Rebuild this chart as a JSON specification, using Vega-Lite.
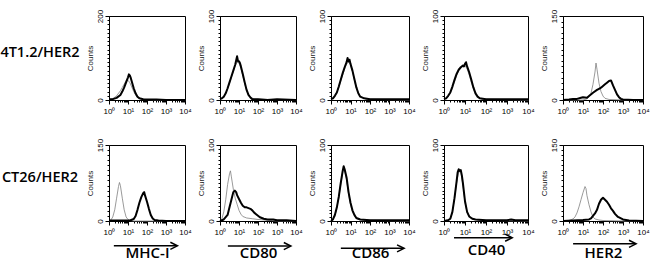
{
"$schema": "https://vega.github.io/schema/vega-lite/v6.json",
"padding": {"left": 0, "top": 8, "right": 0, "bottom": 0},
"background": "white",
"config": {
  "view": {"stroke": "#000", "strokeWidth": 1},
  "font": "Liberation Sans",
  "axis": {"grid": false, "domainColor": "#000", "domainWidth": 1, "tickColor": "#000", "tickWidth": 1, "labelColor": "#000", "labelFont": "Liberation Sans", "labelFontSize": 8, "titleFont": "Liberation Sans", "titleFontWeight": "normal", "titleColor": "#222"},
  "line": {"strokeJoin": "round"}
},
"datasets": {"h": [
{"p":"A1","s":"iso","x":1,"c":1},{"p":"A1","s":"iso","x":1.58,"c":3},{"p":"A1","s":"iso","x":2.51,"c":10},{"p":"A1","s":"iso","x":3.98,"c":22},{"p":"A1","s":"iso","x":5.01,"c":30},{"p":"A1","s":"iso","x":6.31,"c":38},{"p":"A1","s":"iso","x":7.94,"c":46},{"p":"A1","s":"iso","x":8.91,"c":49},{"p":"A1","s":"iso","x":10,"c":47},{"p":"A1","s":"iso","x":12.6,"c":41},{"p":"A1","s":"iso","x":15.8,"c":31},{"p":"A1","s":"iso","x":20,"c":20},{"p":"A1","s":"iso","x":25.1,"c":12},{"p":"A1","s":"iso","x":31.6,"c":6},{"p":"A1","s":"iso","x":50.1,"c":2},{"p":"A1","s":"iso","x":100,"c":1},{"p":"A1","s":"iso","x":316,"c":0},{"p":"A1","s":"iso","x":10000,"c":0},
{"p":"A1","s":"pos","x":1,"c":2},{"p":"A1","s":"pos","x":1.58,"c":2},{"p":"A1","s":"pos","x":2.51,"c":5},{"p":"A1","s":"pos","x":3.98,"c":12},{"p":"A1","s":"pos","x":5.01,"c":20},{"p":"A1","s":"pos","x":6.31,"c":30},{"p":"A1","s":"pos","x":7.94,"c":42},{"p":"A1","s":"pos","x":10,"c":54},{"p":"A1","s":"pos","x":11.2,"c":61},{"p":"A1","s":"pos","x":12.6,"c":58},{"p":"A1","s":"pos","x":14.1,"c":52},{"p":"A1","s":"pos","x":15.8,"c":44},{"p":"A1","s":"pos","x":20,"c":28},{"p":"A1","s":"pos","x":25.1,"c":16},{"p":"A1","s":"pos","x":31.6,"c":8},{"p":"A1","s":"pos","x":39.8,"c":4},{"p":"A1","s":"pos","x":63.1,"c":2},{"p":"A1","s":"pos","x":100,"c":1},{"p":"A1","s":"pos","x":316,"c":1},{"p":"A1","s":"pos","x":1000,"c":0},{"p":"A1","s":"pos","x":10000,"c":0},
{"p":"A2","s":"iso","x":1,"c":1},{"p":"A2","s":"iso","x":1.58,"c":4},{"p":"A2","s":"iso","x":2.51,"c":13},{"p":"A2","s":"iso","x":3.98,"c":27},{"p":"A2","s":"iso","x":5.01,"c":34},{"p":"A2","s":"iso","x":6.31,"c":41},{"p":"A2","s":"iso","x":7.94,"c":45},{"p":"A2","s":"iso","x":10,"c":44},{"p":"A2","s":"iso","x":12.6,"c":38},{"p":"A2","s":"iso","x":15.8,"c":29},{"p":"A2","s":"iso","x":20,"c":19},{"p":"A2","s":"iso","x":31.6,"c":5},{"p":"A2","s":"iso","x":63.1,"c":1},{"p":"A2","s":"iso","x":10000,"c":0},
{"p":"A2","s":"pos","x":1,"c":1},{"p":"A2","s":"pos","x":1.26,"c":2},{"p":"A2","s":"pos","x":1.58,"c":4},{"p":"A2","s":"pos","x":2,"c":8},{"p":"A2","s":"pos","x":2.51,"c":14},{"p":"A2","s":"pos","x":3.16,"c":21},{"p":"A2","s":"pos","x":3.98,"c":28},{"p":"A2","s":"pos","x":5.01,"c":35},{"p":"A2","s":"pos","x":6.31,"c":42},{"p":"A2","s":"pos","x":7.08,"c":47},{"p":"A2","s":"pos","x":7.94,"c":52},{"p":"A2","s":"pos","x":8.91,"c":46},{"p":"A2","s":"pos","x":10,"c":46},{"p":"A2","s":"pos","x":11.2,"c":44},{"p":"A2","s":"pos","x":12.6,"c":40},{"p":"A2","s":"pos","x":15.8,"c":31},{"p":"A2","s":"pos","x":20,"c":21},{"p":"A2","s":"pos","x":25.1,"c":12},{"p":"A2","s":"pos","x":31.6,"c":6},{"p":"A2","s":"pos","x":39.8,"c":3},{"p":"A2","s":"pos","x":50.1,"c":1},{"p":"A2","s":"pos","x":100,"c":1},{"p":"A2","s":"pos","x":316,"c":0},{"p":"A2","s":"pos","x":1000,"c":1},{"p":"A2","s":"pos","x":10000,"c":0},
{"p":"A3","s":"iso","x":1,"c":1},{"p":"A3","s":"iso","x":1.58,"c":4},{"p":"A3","s":"iso","x":2.51,"c":15},{"p":"A3","s":"iso","x":3.98,"c":30},{"p":"A3","s":"iso","x":5.01,"c":37},{"p":"A3","s":"iso","x":6.31,"c":43},{"p":"A3","s":"iso","x":7.94,"c":45},{"p":"A3","s":"iso","x":10,"c":42},{"p":"A3","s":"iso","x":12.6,"c":34},{"p":"A3","s":"iso","x":15.8,"c":24},{"p":"A3","s":"iso","x":20,"c":14},{"p":"A3","s":"iso","x":31.6,"c":4},{"p":"A3","s":"iso","x":63.1,"c":1},{"p":"A3","s":"iso","x":10000,"c":0},
{"p":"A3","s":"pos","x":1,"c":1},{"p":"A3","s":"pos","x":1.26,"c":2},{"p":"A3","s":"pos","x":1.58,"c":5},{"p":"A3","s":"pos","x":2,"c":9},{"p":"A3","s":"pos","x":2.51,"c":16},{"p":"A3","s":"pos","x":3.16,"c":24},{"p":"A3","s":"pos","x":3.98,"c":32},{"p":"A3","s":"pos","x":5.01,"c":39},{"p":"A3","s":"pos","x":6.31,"c":45},{"p":"A3","s":"pos","x":7.08,"c":50},{"p":"A3","s":"pos","x":7.94,"c":46},{"p":"A3","s":"pos","x":8.91,"c":48},{"p":"A3","s":"pos","x":10,"c":43},{"p":"A3","s":"pos","x":12.6,"c":35},{"p":"A3","s":"pos","x":15.8,"c":25},{"p":"A3","s":"pos","x":20,"c":15},{"p":"A3","s":"pos","x":25.1,"c":8},{"p":"A3","s":"pos","x":31.6,"c":4},{"p":"A3","s":"pos","x":50.1,"c":2},{"p":"A3","s":"pos","x":100,"c":1},{"p":"A3","s":"pos","x":316,"c":1},{"p":"A3","s":"pos","x":1000,"c":1},{"p":"A3","s":"pos","x":3162,"c":1},{"p":"A3","s":"pos","x":10000,"c":1},
{"p":"A4","s":"iso","x":1,"c":1},{"p":"A4","s":"iso","x":1.58,"c":4},{"p":"A4","s":"iso","x":2.51,"c":14},{"p":"A4","s":"iso","x":3.98,"c":29},{"p":"A4","s":"iso","x":5.01,"c":35},{"p":"A4","s":"iso","x":6.31,"c":38},{"p":"A4","s":"iso","x":7.94,"c":40},{"p":"A4","s":"iso","x":10,"c":41},{"p":"A4","s":"iso","x":12.6,"c":37},{"p":"A4","s":"iso","x":15.8,"c":30},{"p":"A4","s":"iso","x":20,"c":21},{"p":"A4","s":"iso","x":31.6,"c":6},{"p":"A4","s":"iso","x":63.1,"c":1},{"p":"A4","s":"iso","x":10000,"c":0},
{"p":"A4","s":"pos","x":1,"c":1},{"p":"A4","s":"pos","x":1.26,"c":2},{"p":"A4","s":"pos","x":1.58,"c":5},{"p":"A4","s":"pos","x":2,"c":9},{"p":"A4","s":"pos","x":2.51,"c":16},{"p":"A4","s":"pos","x":3.16,"c":24},{"p":"A4","s":"pos","x":3.98,"c":31},{"p":"A4","s":"pos","x":5.01,"c":36},{"p":"A4","s":"pos","x":6.31,"c":39},{"p":"A4","s":"pos","x":7.94,"c":41},{"p":"A4","s":"pos","x":8.91,"c":40},{"p":"A4","s":"pos","x":10,"c":43},{"p":"A4","s":"pos","x":11.2,"c":45},{"p":"A4","s":"pos","x":12.6,"c":40},{"p":"A4","s":"pos","x":15.8,"c":33},{"p":"A4","s":"pos","x":20,"c":24},{"p":"A4","s":"pos","x":25.1,"c":15},{"p":"A4","s":"pos","x":31.6,"c":8},{"p":"A4","s":"pos","x":39.8,"c":4},{"p":"A4","s":"pos","x":50.1,"c":2},{"p":"A4","s":"pos","x":100,"c":1},{"p":"A4","s":"pos","x":316,"c":1},{"p":"A4","s":"pos","x":1000,"c":1},{"p":"A4","s":"pos","x":3162,"c":1},{"p":"A4","s":"pos","x":10000,"c":1},
{"p":"A5","s":"iso","x":1,"c":0},{"p":"A5","s":"iso","x":10,"c":0},{"p":"A5","s":"iso","x":15.8,"c":2},{"p":"A5","s":"iso","x":20,"c":6},{"p":"A5","s":"iso","x":25.1,"c":12},{"p":"A5","s":"iso","x":31.6,"c":28},{"p":"A5","s":"iso","x":39.8,"c":50},{"p":"A5","s":"iso","x":44.7,"c":66},{"p":"A5","s":"iso","x":50.1,"c":55},{"p":"A5","s":"iso","x":63.1,"c":30},{"p":"A5","s":"iso","x":79.4,"c":15},{"p":"A5","s":"iso","x":100,"c":7},{"p":"A5","s":"iso","x":126,"c":3},{"p":"A5","s":"iso","x":200,"c":1},{"p":"A5","s":"iso","x":1000,"c":0},{"p":"A5","s":"iso","x":10000,"c":0},
{"p":"A5","s":"pos","x":1,"c":0},{"p":"A5","s":"pos","x":2,"c":1},{"p":"A5","s":"pos","x":3.16,"c":2},{"p":"A5","s":"pos","x":5.01,"c":2},{"p":"A5","s":"pos","x":7.94,"c":4},{"p":"A5","s":"pos","x":10,"c":5},{"p":"A5","s":"pos","x":15.8,"c":4},{"p":"A5","s":"pos","x":20,"c":7},{"p":"A5","s":"pos","x":31.6,"c":13},{"p":"A5","s":"pos","x":50.1,"c":18},{"p":"A5","s":"pos","x":63.1,"c":20},{"p":"A5","s":"pos","x":79.4,"c":22},{"p":"A5","s":"pos","x":100,"c":25},{"p":"A5","s":"pos","x":126,"c":28},{"p":"A5","s":"pos","x":158,"c":31},{"p":"A5","s":"pos","x":200,"c":34},{"p":"A5","s":"pos","x":251,"c":35},{"p":"A5","s":"pos","x":316,"c":26},{"p":"A5","s":"pos","x":398,"c":18},{"p":"A5","s":"pos","x":501,"c":10},{"p":"A5","s":"pos","x":631,"c":5},{"p":"A5","s":"pos","x":794,"c":2},{"p":"A5","s":"pos","x":1000,"c":1},{"p":"A5","s":"pos","x":3162,"c":0},{"p":"A5","s":"pos","x":10000,"c":0},
{"p":"B1","s":"iso","x":1,"c":0},{"p":"B1","s":"iso","x":1.26,"c":2},{"p":"B1","s":"iso","x":1.58,"c":8},{"p":"B1","s":"iso","x":2,"c":22},{"p":"B1","s":"iso","x":2.51,"c":45},{"p":"B1","s":"iso","x":3.16,"c":68},{"p":"B1","s":"iso","x":3.55,"c":76},{"p":"B1","s":"iso","x":3.98,"c":70},{"p":"B1","s":"iso","x":5.01,"c":45},{"p":"B1","s":"iso","x":6.31,"c":22},{"p":"B1","s":"iso","x":7.94,"c":8},{"p":"B1","s":"iso","x":10,"c":3},{"p":"B1","s":"iso","x":12.6,"c":1},{"p":"B1","s":"iso","x":20,"c":0},{"p":"B1","s":"iso","x":10000,"c":0},
{"p":"B1","s":"pos","x":1,"c":1},{"p":"B1","s":"pos","x":3.16,"c":1},{"p":"B1","s":"pos","x":12.6,"c":1},{"p":"B1","s":"pos","x":20,"c":4},{"p":"B1","s":"pos","x":25.1,"c":10},{"p":"B1","s":"pos","x":31.6,"c":22},{"p":"B1","s":"pos","x":39.8,"c":36},{"p":"B1","s":"pos","x":50.1,"c":47},{"p":"B1","s":"pos","x":63.1,"c":55},{"p":"B1","s":"pos","x":70.8,"c":57},{"p":"B1","s":"pos","x":79.4,"c":50},{"p":"B1","s":"pos","x":100,"c":38},{"p":"B1","s":"pos","x":126,"c":24},{"p":"B1","s":"pos","x":158,"c":12},{"p":"B1","s":"pos","x":200,"c":5},{"p":"B1","s":"pos","x":251,"c":2},{"p":"B1","s":"pos","x":398,"c":1},{"p":"B1","s":"pos","x":1000,"c":0},{"p":"B1","s":"pos","x":10000,"c":0},
{"p":"B2","s":"iso","x":1,"c":0},{"p":"B2","s":"iso","x":1.26,"c":3},{"p":"B2","s":"iso","x":1.58,"c":12},{"p":"B2","s":"iso","x":2,"c":28},{"p":"B2","s":"iso","x":2.51,"c":48},{"p":"B2","s":"iso","x":3.16,"c":62},{"p":"B2","s":"iso","x":3.55,"c":66},{"p":"B2","s":"iso","x":3.98,"c":58},{"p":"B2","s":"iso","x":5.01,"c":42},{"p":"B2","s":"iso","x":6.31,"c":30},{"p":"B2","s":"iso","x":7.94,"c":22},{"p":"B2","s":"iso","x":10,"c":14},{"p":"B2","s":"iso","x":12.6,"c":9},{"p":"B2","s":"iso","x":15.8,"c":6},{"p":"B2","s":"iso","x":25.1,"c":4},{"p":"B2","s":"iso","x":50.1,"c":3},{"p":"B2","s":"iso","x":100,"c":2},{"p":"B2","s":"iso","x":316,"c":1},{"p":"B2","s":"iso","x":1000,"c":0},{"p":"B2","s":"iso","x":10000,"c":0},
{"p":"B2","s":"pos","x":1,"c":0},{"p":"B2","s":"pos","x":1.58,"c":2},{"p":"B2","s":"pos","x":2.51,"c":8},{"p":"B2","s":"pos","x":3.16,"c":18},{"p":"B2","s":"pos","x":3.98,"c":28},{"p":"B2","s":"pos","x":5.01,"c":38},{"p":"B2","s":"pos","x":6.03,"c":40},{"p":"B2","s":"pos","x":7.08,"c":38},{"p":"B2","s":"pos","x":7.94,"c":34},{"p":"B2","s":"pos","x":10,"c":29},{"p":"B2","s":"pos","x":12.6,"c":24},{"p":"B2","s":"pos","x":15.8,"c":20},{"p":"B2","s":"pos","x":20,"c":18},{"p":"B2","s":"pos","x":25.1,"c":18},{"p":"B2","s":"pos","x":31.6,"c":17},{"p":"B2","s":"pos","x":39.8,"c":16},{"p":"B2","s":"pos","x":50.1,"c":14},{"p":"B2","s":"pos","x":63.1,"c":11},{"p":"B2","s":"pos","x":79.4,"c":9},{"p":"B2","s":"pos","x":100,"c":7},{"p":"B2","s":"pos","x":126,"c":5},{"p":"B2","s":"pos","x":200,"c":3},{"p":"B2","s":"pos","x":316,"c":2},{"p":"B2","s":"pos","x":631,"c":2},{"p":"B2","s":"pos","x":1000,"c":1},{"p":"B2","s":"pos","x":3162,"c":1},{"p":"B2","s":"pos","x":10000,"c":0},
{"p":"B3","s":"iso","x":1,"c":0},{"p":"B3","s":"iso","x":1.58,"c":6},{"p":"B3","s":"iso","x":2.51,"c":30},{"p":"B3","s":"iso","x":3.16,"c":48},{"p":"B3","s":"iso","x":3.98,"c":64},{"p":"B3","s":"iso","x":4.47,"c":70},{"p":"B3","s":"iso","x":5.01,"c":66},{"p":"B3","s":"iso","x":6.31,"c":54},{"p":"B3","s":"iso","x":7.94,"c":36},{"p":"B3","s":"iso","x":10,"c":22},{"p":"B3","s":"iso","x":12.6,"c":12},{"p":"B3","s":"iso","x":20,"c":3},{"p":"B3","s":"iso","x":50.1,"c":1},{"p":"B3","s":"iso","x":10000,"c":0},
{"p":"B3","s":"pos","x":1,"c":0},{"p":"B3","s":"pos","x":1.26,"c":2},{"p":"B3","s":"pos","x":1.58,"c":8},{"p":"B3","s":"pos","x":2,"c":18},{"p":"B3","s":"pos","x":2.51,"c":32},{"p":"B3","s":"pos","x":3.16,"c":50},{"p":"B3","s":"pos","x":3.98,"c":66},{"p":"B3","s":"pos","x":4.47,"c":72},{"p":"B3","s":"pos","x":5.01,"c":68},{"p":"B3","s":"pos","x":6.31,"c":57},{"p":"B3","s":"pos","x":7.94,"c":38},{"p":"B3","s":"pos","x":10,"c":24},{"p":"B3","s":"pos","x":12.6,"c":14},{"p":"B3","s":"pos","x":15.8,"c":8},{"p":"B3","s":"pos","x":20,"c":4},{"p":"B3","s":"pos","x":31.6,"c":2},{"p":"B3","s":"pos","x":100,"c":1},{"p":"B3","s":"pos","x":316,"c":1},{"p":"B3","s":"pos","x":1000,"c":1},{"p":"B3","s":"pos","x":3162,"c":1},{"p":"B3","s":"pos","x":10000,"c":1},
{"p":"B4","s":"iso","x":1,"c":0},{"p":"B4","s":"iso","x":2,"c":3},{"p":"B4","s":"iso","x":2.51,"c":12},{"p":"B4","s":"iso","x":3.16,"c":30},{"p":"B4","s":"iso","x":3.98,"c":50},{"p":"B4","s":"iso","x":5.01,"c":65},{"p":"B4","s":"iso","x":6.31,"c":64},{"p":"B4","s":"iso","x":7.94,"c":48},{"p":"B4","s":"iso","x":10,"c":25},{"p":"B4","s":"iso","x":12.6,"c":11},{"p":"B4","s":"iso","x":20,"c":3},{"p":"B4","s":"iso","x":50.1,"c":1},{"p":"B4","s":"iso","x":10000,"c":0},
{"p":"B4","s":"pos","x":1,"c":0},{"p":"B4","s":"pos","x":1.58,"c":1},{"p":"B4","s":"pos","x":2,"c":3},{"p":"B4","s":"pos","x":2.51,"c":12},{"p":"B4","s":"pos","x":3.16,"c":30},{"p":"B4","s":"pos","x":3.98,"c":52},{"p":"B4","s":"pos","x":4.47,"c":64},{"p":"B4","s":"pos","x":5.01,"c":68},{"p":"B4","s":"pos","x":5.62,"c":66},{"p":"B4","s":"pos","x":6.31,"c":67},{"p":"B4","s":"pos","x":7.08,"c":60},{"p":"B4","s":"pos","x":7.94,"c":50},{"p":"B4","s":"pos","x":8.91,"c":38},{"p":"B4","s":"pos","x":10,"c":26},{"p":"B4","s":"pos","x":12.6,"c":12},{"p":"B4","s":"pos","x":15.8,"c":6},{"p":"B4","s":"pos","x":22.4,"c":3},{"p":"B4","s":"pos","x":31.6,"c":2},{"p":"B4","s":"pos","x":100,"c":1},{"p":"B4","s":"pos","x":1000,"c":1},{"p":"B4","s":"pos","x":1585,"c":2},{"p":"B4","s":"pos","x":2512,"c":1},{"p":"B4","s":"pos","x":10000,"c":1},
{"p":"B5","s":"iso","x":1,"c":0},{"p":"B5","s":"iso","x":2,"c":1},{"p":"B5","s":"iso","x":3.16,"c":4},{"p":"B5","s":"iso","x":3.98,"c":8},{"p":"B5","s":"iso","x":5.01,"c":16},{"p":"B5","s":"iso","x":6.31,"c":28},{"p":"B5","s":"iso","x":7.94,"c":42},{"p":"B5","s":"iso","x":10,"c":56},{"p":"B5","s":"iso","x":12.6,"c":68},{"p":"B5","s":"iso","x":14.1,"c":64},{"p":"B5","s":"iso","x":15.8,"c":50},{"p":"B5","s":"iso","x":20,"c":32},{"p":"B5","s":"iso","x":25.1,"c":18},{"p":"B5","s":"iso","x":31.6,"c":8},{"p":"B5","s":"iso","x":39.8,"c":4},{"p":"B5","s":"iso","x":63.1,"c":2},{"p":"B5","s":"iso","x":100,"c":1},{"p":"B5","s":"iso","x":1000,"c":0},{"p":"B5","s":"iso","x":10000,"c":0},
{"p":"B5","s":"pos","x":1,"c":0},{"p":"B5","s":"pos","x":3.16,"c":1},{"p":"B5","s":"pos","x":10,"c":2},{"p":"B5","s":"pos","x":20,"c":3},{"p":"B5","s":"pos","x":25.1,"c":5},{"p":"B5","s":"pos","x":31.6,"c":10},{"p":"B5","s":"pos","x":39.8,"c":15},{"p":"B5","s":"pos","x":50.1,"c":22},{"p":"B5","s":"pos","x":63.1,"c":34},{"p":"B5","s":"pos","x":79.4,"c":42},{"p":"B5","s":"pos","x":100,"c":46},{"p":"B5","s":"pos","x":112,"c":44},{"p":"B5","s":"pos","x":126,"c":42},{"p":"B5","s":"pos","x":158,"c":38},{"p":"B5","s":"pos","x":200,"c":32},{"p":"B5","s":"pos","x":251,"c":25},{"p":"B5","s":"pos","x":316,"c":20},{"p":"B5","s":"pos","x":398,"c":14},{"p":"B5","s":"pos","x":562,"c":8},{"p":"B5","s":"pos","x":794,"c":5},{"p":"B5","s":"pos","x":1000,"c":3},{"p":"B5","s":"pos","x":2000,"c":1},{"p":"B5","s":"pos","x":10000,"c":0}
]},
"concat": [
{"width": 74, "height": 84, "view": {"stroke": null}, "data": {"values": [{"label": "4T1.2/HER2"}]}, "mark": {"type": "text", "font": "Open Sans", "fontSize": 14.5, "fontWeight": 600, "color": "#000", "dy": -5, "dx": 3}, "encoding": {"text": {"field": "label"}}},
{"width": 76, "height": 84, "data": {"name": "h"}, "transform": [{"filter": "datum.p=='A1'"}], "mark": "line",
 "encoding": {
  "x": {"field": "x", "type": "quantitative", "scale": {"type": "log", "domain": [1, 10000], "nice": false}, "axis": {"title": null, "values": [1,2,3,4,5,6,7,8,9,10,20,30,40,50,60,70,80,90,100,200,300,400,500,600,700,800,900,1000,2000,3000,4000,5000,6000,7000,8000,9000,10000], "labelExpr": "datum.value==1?'10⁰':datum.value==10?'10¹':datum.value==100?'10²':datum.value==1000?'10³':datum.value==10000?'10⁴':''", "labelFlush": false, "labelOverlap": false, "labelPadding": 3, "tickSize": {"condition": {"test": "datum.value==1||datum.value==10||datum.value==100||datum.value==1000||datum.value==10000", "value": 4}, "value": 2}}},
  "y": {"field": "c", "type": "quantitative", "scale": {"domain": [0, 200], "nice": false}, "axis": {"title": "Counts", "titleFontSize": 8, "titlePadding": 2, "tickCount": 20, "labelExpr": "datum.value==0||datum.value==200?datum.label:''", "labelAngle": -90, "labelPadding": 1, "labelOverlap": false, "tickSize": {"condition": {"test": "datum.value==0||datum.value==200", "value": 4}, "value": 2}}},
  "color": {"field": "s", "type": "nominal", "scale": {"domain": ["iso", "pos"], "range": ["#808080", "#000000"]}, "legend": null},
  "strokeWidth": {"field": "s", "type": "ordinal", "scale": {"domain": ["iso", "pos"], "range": [0.8, 2]}, "legend": null}
 }},
{"width": 76, "height": 84, "data": {"name": "h"}, "transform": [{"filter": "datum.p=='A2'"}], "mark": "line",
 "encoding": {
  "x": {"field": "x", "type": "quantitative", "scale": {"type": "log", "domain": [1, 10000], "nice": false}, "axis": {"title": null, "values": [1,2,3,4,5,6,7,8,9,10,20,30,40,50,60,70,80,90,100,200,300,400,500,600,700,800,900,1000,2000,3000,4000,5000,6000,7000,8000,9000,10000], "labelExpr": "datum.value==1?'10⁰':datum.value==10?'10¹':datum.value==100?'10²':datum.value==1000?'10³':datum.value==10000?'10⁴':''", "labelFlush": false, "labelOverlap": false, "labelPadding": 3, "tickSize": {"condition": {"test": "datum.value==1||datum.value==10||datum.value==100||datum.value==1000||datum.value==10000", "value": 4}, "value": 2}}},
  "y": {"field": "c", "type": "quantitative", "scale": {"domain": [0, 100], "nice": false}, "axis": {"title": "Counts", "titleFontSize": 8, "titlePadding": 2, "tickCount": 20, "labelExpr": "datum.value==0||datum.value==100?datum.label:''", "labelAngle": -90, "labelPadding": 1, "labelOverlap": false, "tickSize": {"condition": {"test": "datum.value==0||datum.value==100", "value": 4}, "value": 2}}},
  "color": {"field": "s", "type": "nominal", "scale": {"domain": ["iso", "pos"], "range": ["#808080", "#000000"]}, "legend": null},
  "strokeWidth": {"field": "s", "type": "ordinal", "scale": {"domain": ["iso", "pos"], "range": [0.8, 2]}, "legend": null}
 }},
{"width": 78, "height": 84, "data": {"name": "h"}, "transform": [{"filter": "datum.p=='A3'"}], "mark": "line",
 "encoding": {
  "x": {"field": "x", "type": "quantitative", "scale": {"type": "log", "domain": [1, 10000], "nice": false}, "axis": {"title": null, "values": [1,2,3,4,5,6,7,8,9,10,20,30,40,50,60,70,80,90,100,200,300,400,500,600,700,800,900,1000,2000,3000,4000,5000,6000,7000,8000,9000,10000], "labelExpr": "datum.value==1?'10⁰':datum.value==10?'10¹':datum.value==100?'10²':datum.value==1000?'10³':datum.value==10000?'10⁴':''", "labelFlush": false, "labelOverlap": false, "labelPadding": 3, "tickSize": {"condition": {"test": "datum.value==1||datum.value==10||datum.value==100||datum.value==1000||datum.value==10000", "value": 4}, "value": 2}}},
  "y": {"field": "c", "type": "quantitative", "scale": {"domain": [0, 100], "nice": false}, "axis": {"title": "Counts", "titleFontSize": 8, "titlePadding": 2, "tickCount": 20, "labelExpr": "datum.value==0||datum.value==100?datum.label:''", "labelAngle": -90, "labelPadding": 1, "labelOverlap": false, "tickSize": {"condition": {"test": "datum.value==0||datum.value==100", "value": 4}, "value": 2}}},
  "color": {"field": "s", "type": "nominal", "scale": {"domain": ["iso", "pos"], "range": ["#808080", "#000000"]}, "legend": null},
  "strokeWidth": {"field": "s", "type": "ordinal", "scale": {"domain": ["iso", "pos"], "range": [0.8, 2]}, "legend": null}
 }},
{"width": 84, "height": 84, "data": {"name": "h"}, "transform": [{"filter": "datum.p=='A4'"}], "mark": "line",
 "encoding": {
  "x": {"field": "x", "type": "quantitative", "scale": {"type": "log", "domain": [1, 10000], "nice": false}, "axis": {"title": null, "values": [1,2,3,4,5,6,7,8,9,10,20,30,40,50,60,70,80,90,100,200,300,400,500,600,700,800,900,1000,2000,3000,4000,5000,6000,7000,8000,9000,10000], "labelExpr": "datum.value==1?'10⁰':datum.value==10?'10¹':datum.value==100?'10²':datum.value==1000?'10³':datum.value==10000?'10⁴':''", "labelFlush": false, "labelOverlap": false, "labelPadding": 3, "tickSize": {"condition": {"test": "datum.value==1||datum.value==10||datum.value==100||datum.value==1000||datum.value==10000", "value": 4}, "value": 2}}},
  "y": {"field": "c", "type": "quantitative", "scale": {"domain": [0, 100], "nice": false}, "axis": {"title": "Counts", "titleFontSize": 8, "titlePadding": 2, "tickCount": 20, "labelExpr": "datum.value==0||datum.value==100?datum.label:''", "labelAngle": -90, "labelPadding": 1, "labelOverlap": false, "tickSize": {"condition": {"test": "datum.value==0||datum.value==100", "value": 4}, "value": 2}}},
  "color": {"field": "s", "type": "nominal", "scale": {"domain": ["iso", "pos"], "range": ["#808080", "#000000"]}, "legend": null},
  "strokeWidth": {"field": "s", "type": "ordinal", "scale": {"domain": ["iso", "pos"], "range": [0.8, 2]}, "legend": null}
 }},
{"width": 80, "height": 84, "data": {"name": "h"}, "transform": [{"filter": "datum.p=='A5'"}], "mark": "line",
 "encoding": {
  "x": {"field": "x", "type": "quantitative", "scale": {"type": "log", "domain": [1, 10000], "nice": false}, "axis": {"title": null, "values": [1,2,3,4,5,6,7,8,9,10,20,30,40,50,60,70,80,90,100,200,300,400,500,600,700,800,900,1000,2000,3000,4000,5000,6000,7000,8000,9000,10000], "labelExpr": "datum.value==1?'10⁰':datum.value==10?'10¹':datum.value==100?'10²':datum.value==1000?'10³':datum.value==10000?'10⁴':''", "labelFlush": false, "labelOverlap": false, "labelPadding": 3, "tickSize": {"condition": {"test": "datum.value==1||datum.value==10||datum.value==100||datum.value==1000||datum.value==10000", "value": 4}, "value": 2}}},
  "y": {"field": "c", "type": "quantitative", "scale": {"domain": [0, 150], "nice": false}, "axis": {"title": "Counts", "titleFontSize": 8, "titlePadding": 2, "tickCount": 20, "labelExpr": "datum.value==0||datum.value==150?datum.label:''", "labelAngle": -90, "labelPadding": 1, "labelOverlap": false, "tickSize": {"condition": {"test": "datum.value==0||datum.value==150", "value": 4}, "value": 2}}},
  "color": {"field": "s", "type": "nominal", "scale": {"domain": ["iso", "pos"], "range": ["#808080", "#000000"]}, "legend": null},
  "strokeWidth": {"field": "s", "type": "ordinal", "scale": {"domain": ["iso", "pos"], "range": [0.8, 2]}, "legend": null}
 }},
{"width": 74, "height": 76, "view": {"stroke": null}, "data": {"values": [{"label": "CT26/HER2"}]}, "mark": {"type": "text", "font": "Open Sans", "fontSize": 14.5, "fontWeight": 600, "color": "#000", "dy": -5, "dx": 3}, "encoding": {"text": {"field": "label"}}},
{"width": 76, "height": 76, "layer": [
 {"data": {"name": "h"}, "transform": [{"filter": "datum.p=='B1'"}], "mark": "line",
  "encoding": {
   "x": {"field": "x", "type": "quantitative", "scale": {"type": "log", "domain": [1, 10000], "nice": false}, "axis": {"title": "MHC-I", "titleFont": "Open Sans", "titleFontSize": 15, "titleFontWeight": 600, "titleColor": "#000", "titlePadding": 9, "values": [1,2,3,4,5,6,7,8,9,10,20,30,40,50,60,70,80,90,100,200,300,400,500,600,700,800,900,1000,2000,3000,4000,5000,6000,7000,8000,9000,10000], "labelExpr": "datum.value==1?'10⁰':datum.value==10?'10¹':datum.value==100?'10²':datum.value==1000?'10³':datum.value==10000?'10⁴':''", "labelFlush": false, "labelOverlap": false, "labelPadding": 3, "tickSize": {"condition": {"test": "datum.value==1||datum.value==10||datum.value==100||datum.value==1000||datum.value==10000", "value": 4}, "value": 2}}},
   "y": {"field": "c", "type": "quantitative", "scale": {"domain": [0, 150], "nice": false}, "axis": {"title": "Counts", "titleFontSize": 8, "titlePadding": 2, "tickCount": 20, "labelExpr": "datum.value==0||datum.value==150?datum.label:''", "labelAngle": -90, "labelPadding": 1, "labelOverlap": false, "tickSize": {"condition": {"test": "datum.value==0||datum.value==150", "value": 4}, "value": 2}}},
   "color": {"field": "s", "type": "nominal", "scale": {"domain": ["iso", "pos"], "range": ["#808080", "#000000"]}, "legend": null},
   "strokeWidth": {"field": "s", "type": "ordinal", "scale": {"domain": ["iso", "pos"], "range": [0.8, 2]}, "legend": null}
  }},
 {"data": {"values": [{"a": 1}]}, "mark": {"type": "rule", "color": "#000", "strokeWidth": 1.5}, "encoding": {"x": {"datum": 1.8, "type": "quantitative"}, "x2": {"datum": 3500}, "y": {"datum": -49, "type": "quantitative"}}},
 {"data": {"values": [{"a": 1}]}, "mark": {"type": "point", "shape": "M -1 -1 L 1 0 L -1 1", "filled": false, "size": 50, "strokeWidth": 1.5, "color": "#000", "opacity": 1}, "encoding": {"x": {"datum": 2600, "type": "quantitative"}, "y": {"datum": -49, "type": "quantitative"}}}
]},
{"width": 76, "height": 76, "layer": [
 {"data": {"name": "h"}, "transform": [{"filter": "datum.p=='B2'"}], "mark": "line",
  "encoding": {
   "x": {"field": "x", "type": "quantitative", "scale": {"type": "log", "domain": [1, 10000], "nice": false}, "axis": {"title": "CD80", "titleFont": "Open Sans", "titleFontSize": 15, "titleFontWeight": 600, "titleColor": "#000", "titlePadding": 9, "values": [1,2,3,4,5,6,7,8,9,10,20,30,40,50,60,70,80,90,100,200,300,400,500,600,700,800,900,1000,2000,3000,4000,5000,6000,7000,8000,9000,10000], "labelExpr": "datum.value==1?'10⁰':datum.value==10?'10¹':datum.value==100?'10²':datum.value==1000?'10³':datum.value==10000?'10⁴':''", "labelFlush": false, "labelOverlap": false, "labelPadding": 3, "tickSize": {"condition": {"test": "datum.value==1||datum.value==10||datum.value==100||datum.value==1000||datum.value==10000", "value": 4}, "value": 2}}},
   "y": {"field": "c", "type": "quantitative", "scale": {"domain": [0, 100], "nice": false}, "axis": {"title": "Counts", "titleFontSize": 8, "titlePadding": 2, "tickCount": 20, "labelExpr": "datum.value==0||datum.value==100?datum.label:''", "labelAngle": -90, "labelPadding": 1, "labelOverlap": false, "tickSize": {"condition": {"test": "datum.value==0||datum.value==100", "value": 4}, "value": 2}}},
   "color": {"field": "s", "type": "nominal", "scale": {"domain": ["iso", "pos"], "range": ["#808080", "#000000"]}, "legend": null},
   "strokeWidth": {"field": "s", "type": "ordinal", "scale": {"domain": ["iso", "pos"], "range": [0.8, 2]}, "legend": null}
  }},
 {"data": {"values": [{"a": 1}]}, "mark": {"type": "rule", "color": "#000", "strokeWidth": 1.5}, "encoding": {"x": {"datum": 2.6, "type": "quantitative"}, "x2": {"datum": 4800}, "y": {"datum": -33, "type": "quantitative"}}},
 {"data": {"values": [{"a": 1}]}, "mark": {"type": "point", "shape": "M -1 -1 L 1 0 L -1 1", "filled": false, "size": 50, "strokeWidth": 1.5, "color": "#000", "opacity": 1}, "encoding": {"x": {"datum": 3500, "type": "quantitative"}, "y": {"datum": -33, "type": "quantitative"}}}
]},
{"width": 78, "height": 76, "layer": [
 {"data": {"name": "h"}, "transform": [{"filter": "datum.p=='B3'"}], "mark": "line",
  "encoding": {
   "x": {"field": "x", "type": "quantitative", "scale": {"type": "log", "domain": [1, 10000], "nice": false}, "axis": {"title": "CD86", "titleFont": "Open Sans", "titleFontSize": 15, "titleFontWeight": 600, "titleColor": "#000", "titlePadding": 9, "values": [1,2,3,4,5,6,7,8,9,10,20,30,40,50,60,70,80,90,100,200,300,400,500,600,700,800,900,1000,2000,3000,4000,5000,6000,7000,8000,9000,10000], "labelExpr": "datum.value==1?'10⁰':datum.value==10?'10¹':datum.value==100?'10²':datum.value==1000?'10³':datum.value==10000?'10⁴':''", "labelFlush": false, "labelOverlap": false, "labelPadding": 3, "tickSize": {"condition": {"test": "datum.value==1||datum.value==10||datum.value==100||datum.value==1000||datum.value==10000", "value": 4}, "value": 2}}},
   "y": {"field": "c", "type": "quantitative", "scale": {"domain": [0, 100], "nice": false}, "axis": {"title": "Counts", "titleFontSize": 8, "titlePadding": 2, "tickCount": 20, "labelExpr": "datum.value==0||datum.value==100?datum.label:''", "labelAngle": -90, "labelPadding": 1, "labelOverlap": false, "tickSize": {"condition": {"test": "datum.value==0||datum.value==100", "value": 4}, "value": 2}}},
   "color": {"field": "s", "type": "nominal", "scale": {"domain": ["iso", "pos"], "range": ["#808080", "#000000"]}, "legend": null},
   "strokeWidth": {"field": "s", "type": "ordinal", "scale": {"domain": ["iso", "pos"], "range": [0.8, 2]}, "legend": null}
  }},
 {"data": {"values": [{"a": 1}]}, "mark": {"type": "rule", "color": "#000", "strokeWidth": 1.5}, "encoding": {"x": {"datum": 3.2, "type": "quantitative"}, "x2": {"datum": 5000}, "y": {"datum": -36, "type": "quantitative"}}},
 {"data": {"values": [{"a": 1}]}, "mark": {"type": "point", "shape": "M -1 -1 L 1 0 L -1 1", "filled": false, "size": 50, "strokeWidth": 1.5, "color": "#000", "opacity": 1}, "encoding": {"x": {"datum": 3700, "type": "quantitative"}, "y": {"datum": -36, "type": "quantitative"}}}
]},
{"width": 84, "height": 76, "layer": [
 {"data": {"name": "h"}, "transform": [{"filter": "datum.p=='B4'"}], "mark": "line",
  "encoding": {
   "x": {"field": "x", "type": "quantitative", "scale": {"type": "log", "domain": [1, 10000], "nice": false}, "axis": {"title": "CD40", "titleFont": "Open Sans", "titleFontSize": 15, "titleFontWeight": 600, "titleColor": "#000", "titlePadding": 6, "values": [1,2,3,4,5,6,7,8,9,10,20,30,40,50,60,70,80,90,100,200,300,400,500,600,700,800,900,1000,2000,3000,4000,5000,6000,7000,8000,9000,10000], "labelExpr": "datum.value==1?'10⁰':datum.value==10?'10¹':datum.value==100?'10²':datum.value==1000?'10³':datum.value==10000?'10⁴':''", "labelFlush": false, "labelOverlap": false, "labelPadding": 3, "tickSize": {"condition": {"test": "datum.value==1||datum.value==10||datum.value==100||datum.value==1000||datum.value==10000", "value": 4}, "value": 2}}},
   "y": {"field": "c", "type": "quantitative", "scale": {"domain": [0, 100], "nice": false}, "axis": {"title": "Counts", "titleFontSize": 8, "titlePadding": 2, "tickCount": 20, "labelExpr": "datum.value==0||datum.value==100?datum.label:''", "labelAngle": -90, "labelPadding": 1, "labelOverlap": false, "tickSize": {"condition": {"test": "datum.value==0||datum.value==100", "value": 4}, "value": 2}}},
   "color": {"field": "s", "type": "nominal", "scale": {"domain": ["iso", "pos"], "range": ["#808080", "#000000"]}, "legend": null},
   "strokeWidth": {"field": "s", "type": "ordinal", "scale": {"domain": ["iso", "pos"], "range": [0.8, 2]}, "legend": null}
  }},
 {"data": {"values": [{"a": 1}]}, "mark": {"type": "rule", "color": "#000", "strokeWidth": 1.5}, "encoding": {"x": {"datum": 3.0, "type": "quantitative"}, "x2": {"datum": 1600}, "y": {"datum": -22, "type": "quantitative"}}},
 {"data": {"values": [{"a": 1}]}, "mark": {"type": "point", "shape": "M -1 -1 L 1 0 L -1 1", "filled": false, "size": 50, "strokeWidth": 1.5, "color": "#000", "opacity": 1}, "encoding": {"x": {"datum": 1200, "type": "quantitative"}, "y": {"datum": -22, "type": "quantitative"}}}
]},
{"width": 80, "height": 76, "layer": [
 {"data": {"name": "h"}, "transform": [{"filter": "datum.p=='B5'"}], "mark": "line",
  "encoding": {
   "x": {"field": "x", "type": "quantitative", "scale": {"type": "log", "domain": [1, 10000], "nice": false}, "axis": {"title": "HER2", "titleFont": "Open Sans", "titleFontSize": 15, "titleFontWeight": 600, "titleColor": "#000", "titlePadding": 9, "values": [1,2,3,4,5,6,7,8,9,10,20,30,40,50,60,70,80,90,100,200,300,400,500,600,700,800,900,1000,2000,3000,4000,5000,6000,7000,8000,9000,10000], "labelExpr": "datum.value==1?'10⁰':datum.value==10?'10¹':datum.value==100?'10²':datum.value==1000?'10³':datum.value==10000?'10⁴':''", "labelFlush": false, "labelOverlap": false, "labelPadding": 3, "tickSize": {"condition": {"test": "datum.value==1||datum.value==10||datum.value==100||datum.value==1000||datum.value==10000", "value": 4}, "value": 2}}},
   "y": {"field": "c", "type": "quantitative", "scale": {"domain": [0, 150], "nice": false}, "axis": {"title": "Counts", "titleFontSize": 8, "titlePadding": 2, "tickCount": 20, "labelExpr": "datum.value==0||datum.value==150?datum.label:''", "labelAngle": -90, "labelPadding": 1, "labelOverlap": false, "tickSize": {"condition": {"test": "datum.value==0||datum.value==150", "value": 4}, "value": 2}}},
   "color": {"field": "s", "type": "nominal", "scale": {"domain": ["iso", "pos"], "range": ["#808080", "#000000"]}, "legend": null},
   "strokeWidth": {"field": "s", "type": "ordinal", "scale": {"domain": ["iso", "pos"], "range": [0.8, 2]}, "legend": null}
  }},
 {"data": {"values": [{"a": 1}]}, "mark": {"type": "rule", "color": "#000", "strokeWidth": 1.5}, "encoding": {"x": {"datum": 3.2, "type": "quantitative"}, "x2": {"datum": 4000}, "y": {"datum": -45, "type": "quantitative"}}},
 {"data": {"values": [{"a": 1}]}, "mark": {"type": "point", "shape": "M -1 -1 L 1 0 L -1 1", "filled": false, "size": 50, "strokeWidth": 1.5, "color": "#000", "opacity": 1}, "encoding": {"x": {"datum": 3000, "type": "quantitative"}, "y": {"datum": -45, "type": "quantitative"}}}
]}
],
"columns": 6,
"spacing": {"row": 45, "column": 35},
"align": "each",
"bounds": "flush"
}
